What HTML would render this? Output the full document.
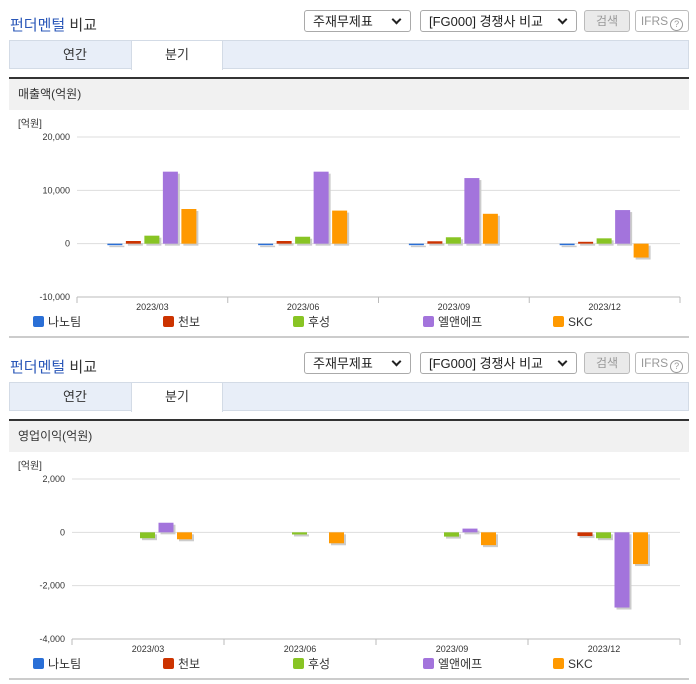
<!DOCTYPE html>
<html><head><meta charset="utf-8">
<style>
body{margin:0;width:696px;height:684px;background:#fff;font-family:"Liberation Sans","Noto Sans CJK KR",sans-serif;position:relative;overflow:hidden}
.abs{position:absolute}
.title{font-size:15px;font-weight:normal;color:#333}
.title b{color:#2a57b8;font-weight:normal}
.sel{border:1px solid #aaa;border-radius:3px;height:22px;background:#fff;font-size:13px;color:#222;box-sizing:border-box;padding:3px 0 0 8px;line-height:15px}
.sel:after{content:"";position:absolute;right:10px;top:5px;width:5px;height:5px;border-right:2px solid #222;border-bottom:2px solid #222;transform:rotate(45deg)}
.btn{border:1px solid #bbb;border-radius:3px;height:22px;box-sizing:border-box;font-size:12px;color:#999;text-align:center;padding-top:4px;line-height:13px}
.q{display:inline-block;width:11px;height:11px;border:1px solid #999;border-radius:50%;font-size:9px;line-height:11px;vertical-align:-2px;margin-left:2px}
.tabs{background:#e8eef8;border:1px solid #d3dbe6;box-sizing:border-box;height:29px}
.tab{font-size:13px;color:#333;text-align:center;top:0;height:28px;line-height:28px}
.tab.on{background:#fff;border-left:1px solid #d3dbe6;border-right:1px solid #d3dbe6;height:29px}
.dark{background:#333;height:2px}
.hdr{background:#f1f1f1;height:31px;font-size:12px;color:#333;line-height:31px;padding-left:9px;box-sizing:border-box}
.gline{background:#ccc;height:2px}
</style></head><body>
<div id="s1"></div><div id="s2"></div>
<svg id="c1" class="abs" style="left:0;top:110px" width="696" height="230"></svg>
<svg id="c2" class="abs" style="left:0;top:452px" width="696" height="230"></svg>
<script>
const series = ["나노팀","천보","후성","엘앤에프","SKC"];
const colors = ["#2a6fd6","#cc3300","#88c424","#a374dc","#ff9900"];
const categories = ["2023/03","2023/06","2023/09","2023/12"];
const revNano = [-200,-200,-150,-200];
const revChunbo = [500,500,450,350];
const revHusung = [1500,1300,1200,1000];
const revLnf = [13500,13500,12300,6300];
const revSkc = [6500,6200,5600,-2600];
const revTicks = [20000,10000,0,-10000];
const revTickLabels = ["20,000","10,000","0","-10,000"];
const opNano = [0,0,0,0];
const opChunbo = [0,0,0,-140];
const opHusung = [-220,-80,-160,-220];
const opLnf = [360,0,140,-2820];
const opSkc = [-260,-410,-480,-1190];
const opTicks = [2000,0,-2000,-4000];
const opTickLabels = ["2,000","0","-2,000","-4,000"];

function header(id, top, label){
  const el=document.getElementById(id);
  el.innerHTML=`
  <div class="abs title" style="left:10px;top:${top+4}px"><b>펀더멘털</b> 비교</div>
  <div class="abs sel" style="left:304px;top:${top}px;width:107px">주재무제표</div>
  <div class="abs sel" style="left:420px;top:${top}px;width:157px">[FG000] 경쟁사 비교</div>
  <div class="abs btn" style="left:584px;top:${top}px;width:46px;background:#eaeaea">검색</div>
  <div class="abs btn" style="left:635px;top:${top}px;width:54px">IFRS<span class="q">?</span></div>
  <div class="abs tabs" style="left:9px;top:${top+30}px;width:680px">
    <div class="abs tab" style="left:22px;width:86px">연간</div>
    <div class="abs tab on" style="left:121px;width:90px">분기</div>
  </div>
  <div class="abs dark" style="left:9px;top:${top+67}px;width:680px"></div>
  <div class="abs hdr" style="left:9px;top:${top+69}px;width:680px">${label}</div>
  <div class="abs gline" style="left:9px;top:${top+326}px;width:680px"></div>`;
}
header("s1",10,"매출액(억원)");
header("s2",352,"영업이익(억원)");

const NS="http://www.w3.org/2000/svg";
function mk(svg,tag,attrs){const e=document.createElementNS(NS,tag);for(const k in attrs)e.setAttribute(k,attrs[k]);svg.appendChild(e);return e;}

function chart(id, data, ticks, labels, x0, x1, yTop, yBot, vmax, vmin, labelX){
  const svg=document.getElementById(id);
  const y=v=>yTop+(vmax-v)/(vmax-vmin)*(yBot-yTop);
  const cw=(x1-x0)/categories.length;
  const t=mk(svg,"text",{x:18,y:17,"font-size":"10",fill:"#333"});t.textContent="[억원]";
  
  
  ticks.forEach((v,i)=>{
    const l=mk(svg,"line",{x1:x0,x2:x1,y1:y(v),y2:y(v),stroke:i==ticks.length-1?"#bbb":"#ddd","stroke-width":1});
    
    
    const tx=mk(svg,"text",{x:labelX,y:y(v)+3,"font-size":"9","text-anchor":"end",fill:"#333"});tx.textContent=labels[i];
    
    
  });
  for(let c=0;c<=categories.length;c++){
    const l=mk(svg,"line",{x1:x0+c*cw,x2:x0+c*cw,y1:yBot,y2:yBot+6,stroke:"#bbb"});
    
    
  }
  categories.forEach((cat,c)=>{
    const cx=x0+c*cw+cw/2;
    const tx=mk(svg,"text",{x:cx,y:yBot+13,"font-size":"9","text-anchor":"middle",fill:"#333"});tx.textContent=cat;
    
    
    data.forEach((arr,s)=>{
      const v=arr[c]; if(v===0)return;
      const bx=cx-45+s*18.5, top=Math.min(y(v),y(0)), h=Math.max(Math.abs(y(v)-y(0)),1.5);
      const sh=mk(svg,"rect",{x:bx+2,y:top+2,width:15,height:h,fill:"#ccc"});
      
      
      const r=mk(svg,"rect",{x:bx,y:top,width:15,height:h,fill:colors[s]});
      
      
    });
  });
  series.forEach((s,i)=>{
    const lx=33+i*130;
    const r=mk(svg,"rect",{x:lx,y:yBot+19,width:11,height:11,rx:2,fill:colors[i]});
    
    
    const tx=mk(svg,"text",{x:lx+15,y:yBot+29,"font-size":"12",fill:"#333"});tx.textContent=s;
    
    
  });
}
chart("c1",[revNano,revChunbo,revHusung,revLnf,revSkc],revTicks,revTickLabels,77,680,27,187,20000,-10000,70);
chart("c2",[opNano,opChunbo,opHusung,opLnf,opSkc],opTicks,opTickLabels,72,680,27,187,2000,-4000,65);
</script>
</body></html>
